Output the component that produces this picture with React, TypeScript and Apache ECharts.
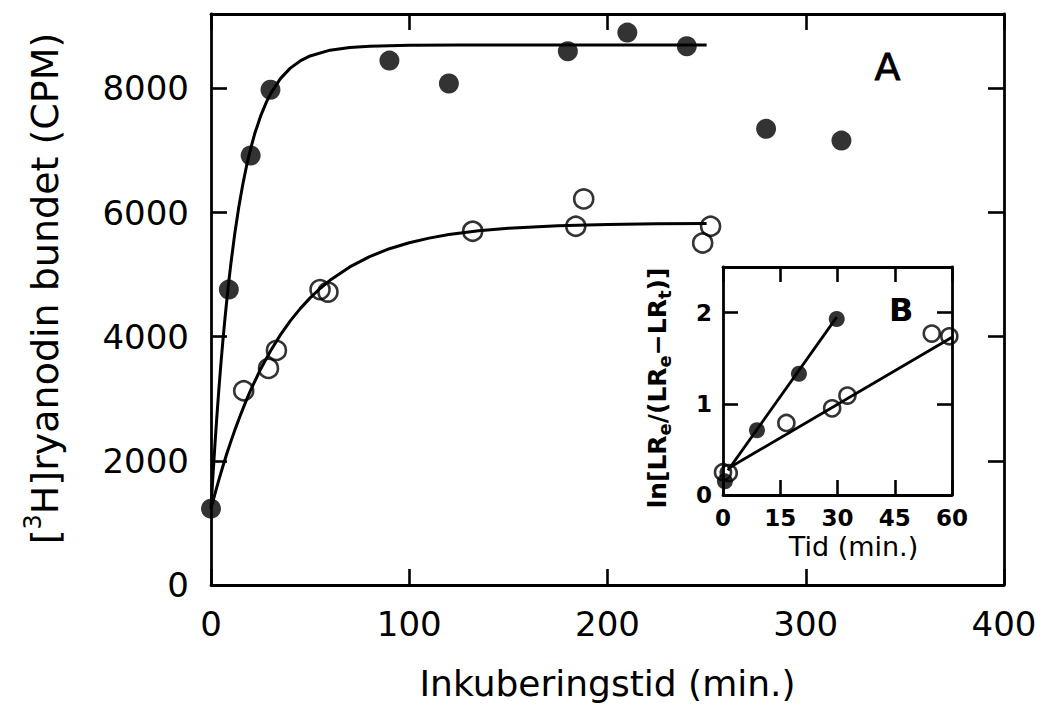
import React, { useEffect, useRef } from 'react';
import * as echarts from 'echarts';

// Main panel (A): measured points
const filledTime = [0, 9, 20, 30, 90, 120, 180, 210, 240, 280, 318];
const filledCPM = [1230, 4760, 6920, 7980, 8450, 8080, 8600, 8900, 8680, 7350, 7160];
const openTime = [16.5, 29, 33, 55, 59, 132, 184, 188, 248, 252];
const openCPM = [3130, 3490, 3780, 4760, 4720, 5700, 5780, 6220, 5510, 5780];

// Main panel fitted curves
const filledFitTime = [0, 1, 2, 3, 4, 5, 6, 7, 8, 9, 10, 12, 14, 16, 18, 20, 22, 25, 28, 30, 35, 40, 45, 50, 60, 70, 80, 100, 125, 150, 200, 250];
const filledFitCPM = [1230, 1770, 2270, 2735, 3166, 3566, 3937, 4281, 4600, 4896, 5171, 5663, 6086, 6450, 6764, 7030, 7266, 7554, 7785, 7913, 8159, 8328, 8444, 8524, 8617, 8661, 8681, 8696, 8700, 8700, 8700, 8700];
const openFitTime = [0, 2, 4, 6, 8, 10, 12, 15, 18, 20, 25, 30, 35, 40, 45, 50, 55, 60, 70, 80, 90, 100, 110, 120, 135, 150, 175, 200, 225, 250];
const openFitCPM = [1230, 1470, 1698, 1913, 2118, 2310, 2495, 2750, 2990, 3140, 3476, 3770, 4030, 4255, 4453, 4626, 4777, 4909, 5125, 5291, 5418, 5515, 5589, 5646, 5707, 5747, 5788, 5808, 5819, 5825];

// Inset (B)
const insetFilledTime = [0.5, 8.9, 19.9, 29.8];
const insetFilledLn = [0.15, 0.71, 1.33, 1.93];
const insetOpenTime = [0, 1.5, 16.6, 28.6, 32.6, 54.7, 59.3];
const insetOpenLn = [0.25, 0.24, 0.79, 0.95, 1.09, 1.77, 1.74];
const insetFilledFitTime = [1.3, 29.8];
const insetFilledFitLn = [0.27, 1.95];
const insetOpenFitTime = [1.3, 60];
const insetOpenFitLn = [0.29, 1.73];

// Tick labels
const mainXTickLabels = ['0', '100', '200', '300', '400'];
const mainYTickLabels = ['0', '2000', '4000', '6000', '8000'];
const insetXTickLabels = ['0', '15', '30', '45', '60'];
const insetYTickLabels = ['0', '1', '2'];

const zip = (a: number[], b: number[]) => a.map((v, i) => [v, b[i]]);

const MAIN_FONT = "'DejaVu Sans', sans-serif";
const INSET_FONT = "'DejaVu Sans', sans-serif";

export default function App() {
  const ref = useRef<HTMLDivElement>(null);

  useEffect(() => {
    document.body.style.margin = '0';
    if (!ref.current) return;
    const chart = echarts.init(ref.current, undefined, { renderer: 'svg' });

    const axisLine = { show: true, onZero: false, lineStyle: { color: '#000', width: 2.8 } };
    const mainTick = { show: true, inside: true, length: 16, lineStyle: { color: '#000', width: 2.6 } };
    const insetTick = { show: true, inside: true, length: 15, lineStyle: { color: '#000', width: 2.6 } };
    const mainLabel = (labels: string[]) => ({
      show: true,
      color: '#000',
      fontSize: 34,
      fontFamily: MAIN_FONT,
      margin: 22,
      formatter: (v: number) => (labels.includes(String(v)) ? String(v) : ''),
    });
    const insetLabel = (labels: string[]) => ({
      show: true,
      color: '#000',
      fontSize: 23,
      fontWeight: 'bold',
      fontFamily: INSET_FONT,
      margin: 11,
      formatter: (v: number) => (labels.includes(String(v)) ? String(v) : ''),
    });

    const option: any = {
      animation: false,
      backgroundColor: '#fff',
      grid: [
        { left: 211, right: 40, top: 14, bottom: 121, outerBoundsMode: 'none' },
        {
          left: 723, top: 267, width: 229, height: 228, show: true,
          backgroundColor: '#fff', borderWidth: 0, outerBoundsMode: 'none', z: 5,
        },
      ],
      xAxis: [
        {
          gridIndex: 0, type: 'value', position: 'bottom', min: 0, max: 400, interval: 100,
          axisLine, axisTick: mainTick, axisLabel: mainLabel(mainXTickLabels), splitLine: { show: false },
          name: 'Inkuberingstid (min.)', nameLocation: 'middle', nameGap: 80,
          nameTextStyle: { fontSize: 36, fontFamily: MAIN_FONT, color: '#000' },
        },
        {
          gridIndex: 0, type: 'value', position: 'top', min: 0, max: 400, interval: 100,
          axisLine, axisTick: mainTick, axisLabel: { show: false }, splitLine: { show: false },
        },
        {
          gridIndex: 1, type: 'value', position: 'bottom', min: 0, max: 60, interval: 15,
          axisLine, axisTick: insetTick, axisLabel: insetLabel(insetXTickLabels), splitLine: { show: false },
          name: 'Tid (min.)', nameLocation: 'middle', nameGap: 38,
          nameTextStyle: { fontSize: 27, fontFamily: INSET_FONT, color: '#000', padding: [0, 0, 0, 32] },
          z: 6,
        },
        {
          gridIndex: 1, type: 'value', position: 'top', min: 0, max: 60, interval: 15,
          axisLine, axisTick: insetTick, axisLabel: { show: false }, splitLine: { show: false }, z: 6,
        },
      ],
      yAxis: [
        {
          gridIndex: 0, type: 'value', position: 'left', min: 0, max: 9200, interval: 2000,
          axisLine, axisTick: mainTick, axisLabel: mainLabel(mainYTickLabels), splitLine: { show: false },
          name: '[{sup|3}H]ryanodin bundet (CPM)', nameLocation: 'middle', nameGap: 142, nameRotate: 90,
          nameTextStyle: {
            fontSize: 38, fontFamily: MAIN_FONT, color: '#000', lineHeight: 48, padding: [0, 0, 0, 22],
            rich: { sup: { fontSize: 24, fontFamily: MAIN_FONT, color: '#000', verticalAlign: 'top', lineHeight: 24 } },
          },
        },
        {
          gridIndex: 0, type: 'value', position: 'right', min: 0, max: 9200, interval: 2000,
          axisLine, axisTick: mainTick, axisLabel: { show: false }, splitLine: { show: false },
        },
        {
          gridIndex: 1, type: 'value', position: 'left', min: 0, max: 2.5, interval: 1,
          axisLine, axisTick: insetTick, axisLabel: insetLabel(insetYTickLabels), splitLine: { show: false },
          name: 'ln[LR{sub|e}/(LR{sub|e}−LR{sub|t})]', nameLocation: 'middle', nameGap: 50, nameRotate: 90,
          nameTextStyle: {
            fontSize: 25, fontWeight: 'bold', fontFamily: INSET_FONT, color: '#000', lineHeight: 32,
            padding: [0, 14, 0, 0],
            rich: {
              sub: {
                fontSize: 18, fontWeight: 'bold', fontFamily: INSET_FONT, color: '#000',
                verticalAlign: 'bottom', lineHeight: 18,
              },
            },
          },
          z: 6,
        },
        {
          gridIndex: 1, type: 'value', position: 'right', min: 0, max: 2.5, interval: 1,
          axisLine, axisTick: insetTick, axisLabel: { show: false }, splitLine: { show: false }, z: 6,
        },
      ],
      series: [
        {
          type: 'line', xAxisIndex: 0, yAxisIndex: 0, data: zip(filledFitTime, filledFitCPM),
          symbol: 'none', smooth: false, lineStyle: { color: '#000', width: 3 }, silent: true,
        },
        {
          type: 'line', xAxisIndex: 0, yAxisIndex: 0, data: zip(openFitTime, openFitCPM),
          symbol: 'none', smooth: false, lineStyle: { color: '#000', width: 3 }, silent: true,
        },
        {
          type: 'scatter', xAxisIndex: 0, yAxisIndex: 0, data: zip(openTime, openCPM),
          symbol: 'circle', symbolSize: 19,
          itemStyle: { color: 'rgba(0,0,0,0)', borderColor: '#000', borderWidth: 2.6 },
        },
        {
          type: 'scatter', xAxisIndex: 0, yAxisIndex: 0, data: zip(filledTime, filledCPM),
          symbol: 'circle', symbolSize: 20, itemStyle: { color: '#000' },
        },
        {
          type: 'line', xAxisIndex: 2, yAxisIndex: 2, data: zip(insetFilledFitTime, insetFilledFitLn),
          symbol: 'none', lineStyle: { color: '#000', width: 2.8 }, z: 7,
        },
        {
          type: 'line', xAxisIndex: 2, yAxisIndex: 2, data: zip(insetOpenFitTime, insetOpenFitLn),
          symbol: 'none', lineStyle: { color: '#000', width: 2.8 }, z: 7,
        },
        {
          type: 'scatter', xAxisIndex: 2, yAxisIndex: 2, data: zip(insetOpenTime, insetOpenLn),
          symbol: 'circle', symbolSize: 16,
          itemStyle: { color: 'rgba(0,0,0,0)', borderColor: '#000', borderWidth: 2.6 }, z: 7,
        },
        {
          type: 'scatter', xAxisIndex: 2, yAxisIndex: 2, data: zip(insetFilledTime, insetFilledLn),
          symbol: 'circle', symbolSize: 16, itemStyle: { color: '#000' }, z: 8,
        },
      ],
      graphic: [
        {
          type: 'text', left: 874, top: 48, z: 10,
          style: { text: 'A', fontSize: 38, fontFamily: MAIN_FONT, fill: '#000', stroke: '#000', lineWidth: 0.8 },
        },
        {
          type: 'text', left: 889, top: 294, z: 10,
          style: { text: 'B', fontSize: 32, fontWeight: 'bold', fontFamily: MAIN_FONT, fill: '#000' },
        },
      ],
    };

    chart.setOption(option);
    return () => chart.dispose();
  }, []);

  return <div ref={ref} style={{ width: 1044, height: 706 }} />;
}
